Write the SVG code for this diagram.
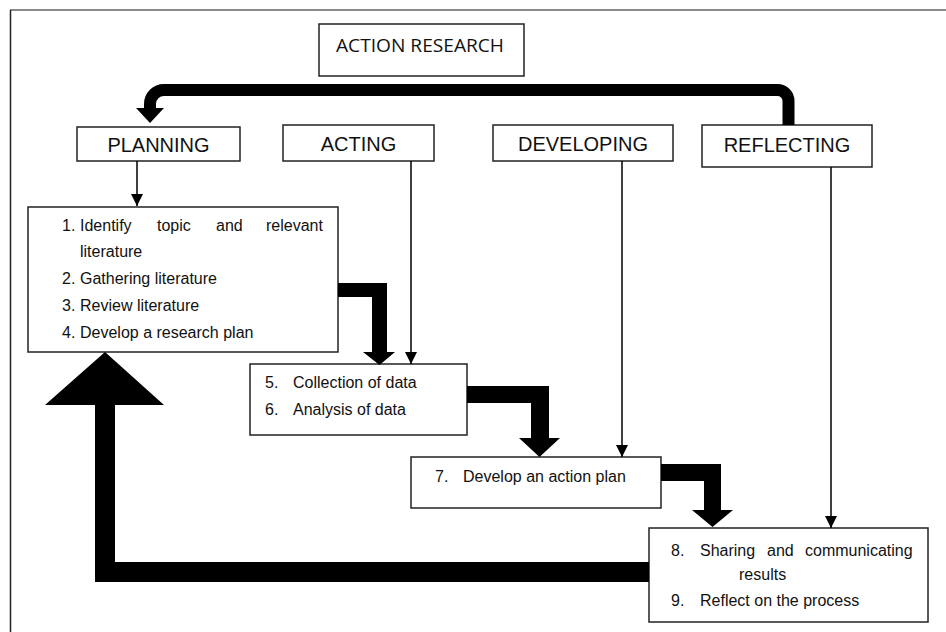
<svg xmlns="http://www.w3.org/2000/svg" width="946" height="632" viewBox="0 0 946 632">
  <style>
    .box { fill: #fff; stroke: #222; stroke-width: 1.5; }
    .hdr { font-family: "Liberation Sans", Arial, sans-serif; font-size: 20px; fill: #111; text-anchor: middle; }
    .txt { font-family: "Liberation Sans", Arial, sans-serif; font-size: 16px; fill: #111; }
    .title { font-family: "Open Sans", "Liberation Sans", sans-serif; font-size: 18.5px; fill: #111; }
    .thin { stroke: #000; stroke-width: 1.5; fill: none; marker-end: url(#tip); }
    .band { stroke: #000; stroke-width: 12; fill: none; }
    .thick { fill: #000; }
  </style>
  <defs>
    <marker id="tip" markerUnits="userSpaceOnUse" markerWidth="12" markerHeight="12" refX="12" refY="6" orient="auto">
      <path d="M0,0 L12,6 L0,12 z" fill="#000"/>
    </marker>
  </defs>

  <rect width="946" height="632" fill="#fff"/>

  <!-- page frame -->
  <line x1="10" y1="10" x2="946" y2="10" stroke="#8a8a8a" stroke-width="2"/>
  <line x1="10.5" y1="10" x2="10.5" y2="632" stroke="#222" stroke-width="1.5"/>

  <!-- nodes -->
  <g id="action-research">
    <rect class="box" x="319" y="24" width="205" height="52"/>
    <text class="title" x="336" y="52" textLength="168" lengthAdjust="spacingAndGlyphs">ACTION RESEARCH</text>
  </g>

  <g id="planning">
    <rect class="box" x="77" y="127" width="163" height="34"/>
    <text class="hdr" x="158.5" y="152">PLANNING</text>
  </g>

  <g id="acting">
    <rect class="box" x="283" y="125" width="151" height="36"/>
    <text class="hdr" x="358.5" y="151">ACTING</text>
  </g>

  <g id="developing">
    <rect class="box" x="493" y="125" width="180" height="36"/>
    <text class="hdr" x="583" y="151">DEVELOPING</text>
  </g>

  <g id="reflecting">
    <rect class="box" x="702" y="125" width="170" height="42"/>
    <text class="hdr" x="787" y="152">REFLECTING</text>
  </g>

  <g id="step-planning">
    <rect class="box" x="28" y="207" width="310" height="145"/>
    <text class="txt" y="231"><tspan x="62">1.</tspan><tspan x="80">Identify</tspan><tspan x="157">topic</tspan><tspan x="216">and</tspan><tspan x="266">relevant</tspan></text>
    <text class="txt" x="80" y="257">literature</text>
    <text class="txt" y="284"><tspan x="62">2.</tspan><tspan x="80">Gathering literature</tspan></text>
    <text class="txt" y="311"><tspan x="62">3.</tspan><tspan x="80">Review literature</tspan></text>
    <text class="txt" y="338"><tspan x="62">4.</tspan><tspan x="80">Develop a research plan</tspan></text>
  </g>

  <g id="step-acting">
    <rect class="box" x="250" y="364" width="217" height="71"/>
    <text class="txt" y="388"><tspan x="265">5.</tspan><tspan x="293">Collection of data</tspan></text>
    <text class="txt" y="415"><tspan x="265">6.</tspan><tspan x="293">Analysis of data</tspan></text>
  </g>

  <g id="step-developing">
    <rect class="box" x="411" y="457" width="250" height="51"/>
    <text class="txt" y="482"><tspan x="435">7.</tspan><tspan x="463">Develop an action plan</tspan></text>
  </g>

  <g id="step-reflecting">
    <rect class="box" x="649" y="528" width="279" height="94"/>
    <text class="txt" y="556"><tspan x="671">8.</tspan><tspan x="700">Sharing</tspan><tspan x="767">and</tspan><tspan x="805">communicating</tspan></text>
    <text class="txt" x="739" y="580">results</text>
    <text class="txt" y="606"><tspan x="671">9.</tspan><tspan x="700">Reflect on the process</tspan></text>
  </g>

  <!-- connectors -->
  <g id="connectors">
    <!-- cycle return from REFLECTING to PLANNING -->
    <path class="band" d="M788.5,125 V101 A11,11 0 0 0 777.5,90 H164 A14,14 0 0 0 150,104 V109"/>
    <polygon class="thick" points="136,108 164,108 150,123"/>

    <!-- stage headers to their steps -->
    <line class="thin" x1="137" y1="161" x2="137" y2="206"/>
    <line class="thin" x1="411" y1="161" x2="411" y2="364"/>
    <line class="thin" x1="622" y1="161" x2="622" y2="457"/>
    <line class="thin" x1="831" y1="167" x2="831" y2="528"/>

    <!-- step to step -->
    <polygon class="thick" points="338,283 387,283 387,352 395,352 379.5,365 363,352 372,352 372,297 338,297"/>
    <polygon class="thick" points="467,386 549,386 549,438 560,438 539.5,457 519,438 531,438 531,403 467,403"/>
    <polygon class="thick" points="661,464 721,464 721,510 733,510 712.5,527 692,510 704,510 704,481 661,481"/>

    <!-- loop back to planning -->
    <polygon class="thick" points="649,562 649,582 95,582 95,405 45,405 105,352 164,405 115,405 115,562"/>
  </g>
</svg>
